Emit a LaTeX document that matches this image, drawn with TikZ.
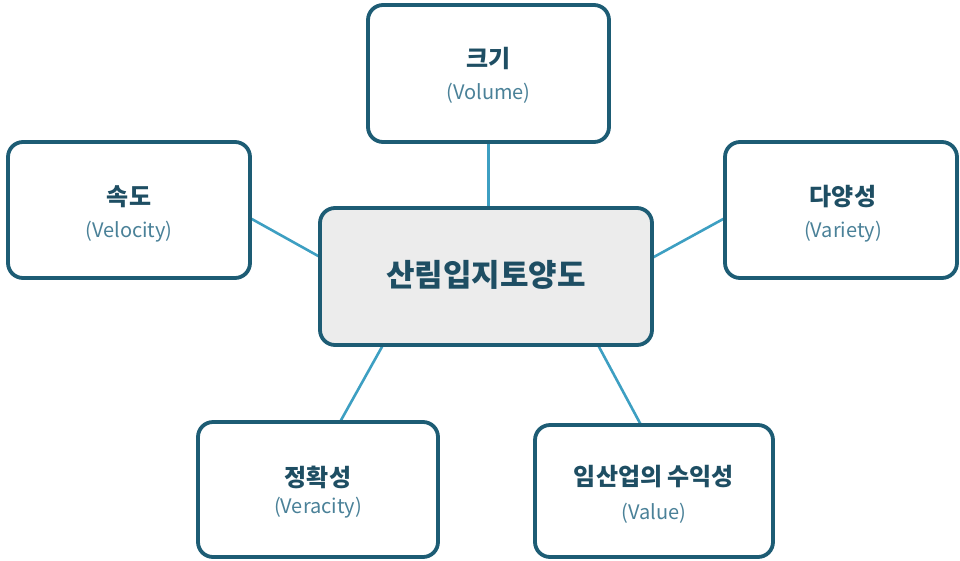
\documentclass[tikz,border=0pt]{standalone}
\usepackage{fontspec}
\setmainfont{Noto Sans CJK KR}
\usetikzlibrary{calc,backgrounds}
\definecolor{boxline}{HTML}{1D5C74}
\definecolor{titletext}{HTML}{1E4E63}
\definecolor{subtext}{HTML}{4A8198}
\definecolor{linkline}{HTML}{3D9FC2}
\definecolor{hubfill}{HTML}{ECECEC}
\begin{document}
\begin{tikzpicture}[x=1pt,y=-1pt,
  card/.style={draw=boxline, line width=3.8pt, rounded corners=15pt, fill=white,
    inner sep=0pt, outer sep=0pt},
  title/.style={font=\fontsize{24}{27}\selectfont\bfseries, text=titletext},
  sub/.style={font=\fontsize{20}{23}\selectfont, text=subtext},
  link/.style={draw=linkline, line width=2.6pt}]
\useasboundingbox (0,0) rectangle (960,560);

% hub
\node[card, fill=hubfill, minimum width=332pt, minimum height=137pt] (hub) at (486,276.5) {};
\node[font=\fontsize{31}{35}\selectfont\bfseries, text=titletext] (c) at (486,275) {산림입지토양도};

% outer cards
\node[card, minimum width=241pt, minimum height=137pt] (t) at (488.5,73.5) {};
\node[title] (tt) at (488.5,58) {크기};
\node[sub] (ts) at (488.5,93) {(Volume)};

\node[card, minimum width=242pt, minimum height=136pt] (l) at (129,210) {};
\node[title] (lt) at (129,197) {속도};
\node[sub] (ls) at (129,232) {(Velocity)};

\node[card, minimum width=232pt, minimum height=136pt] (r) at (841,210) {};
\node[title] (rt) at (843,197) {다양성};
\node[sub] (rs) at (843,232) {(Variety)};

\node[card, minimum width=240pt, minimum height=135pt] (bl) at (318,489.5) {};
\node[title] (blt) at (318,477) {정확성};
\node[sub] (bls) at (318,508) {(Veracity)};

\node[card, minimum width=238pt, minimum height=132pt] (br) at (654,491) {};
\node[title] (brt) at (654,477) {임산업의 수익성};
\node[sub] (brs) at (654,513) {(Value)};

% connectors from the hub to each card
\begin{pgfonlayer}{background}
\draw[link] (t.south) -- (t.south |- hub.north);
\draw[link] ($(l.east)+(0,8)$) -- ($(hub.west)+(0,-19.5)$);
\draw[link] ($(r.west)+(0,8)$) -- ($(hub.east)+(0,-18.5)$);
\draw[link] ($(hub.south)+(-103,0)$) -- ($(bl.north)+(22,0)$);
\draw[link] ($(hub.south)+(112,0)$) -- ($(br.north)+(-13,0)$);
\end{pgfonlayer}
\end{tikzpicture}
\end{document}
